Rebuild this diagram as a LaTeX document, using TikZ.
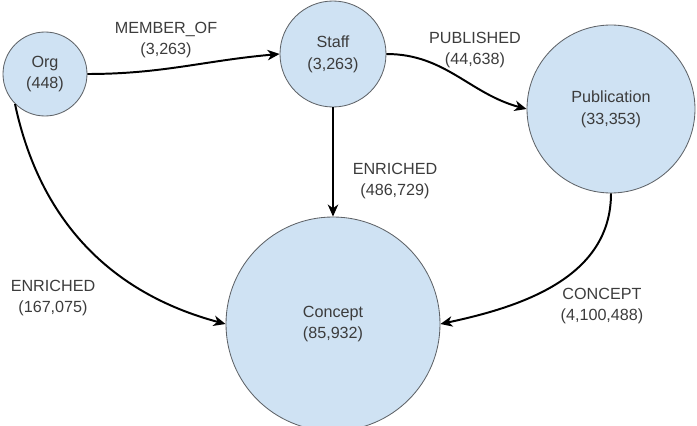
\documentclass[tikz,border=0pt]{standalone}
\usepackage{fontspec}
\setmainfont{Liberation Sans}
\usepackage{tikz}
\usetikzlibrary{arrows.meta}
\definecolor{nodeblue}{RGB}{207,226,243}
\definecolor{nodegray}{RGB}{95,99,104}
\definecolor{textgray}{RGB}{60,60,60}
\tikzset{every node/.append style={align=center}}
\tikzset{
  ent/.style={circle, draw=nodegray, fill=nodeblue, line width=0.6pt, inner sep=0pt,
    font=\fontsize{11.5}{15.5}\selectfont, text=textgray, align=center},
  arrow/.style={-{Stealth[length=3mm, width=2.6mm, inset=0.9mm]}, line width=1.4pt, black},
  lbl/.style={font=\fontsize{11.5}{15.5}\selectfont, text=textgray, align=center}
}
\begin{document}
\begin{tikzpicture}
  \useasboundingbox (0,0) rectangle (174.25mm,-106.5mm);
  \begin{scope}
  \clip (0,0) rectangle (174.25mm,-106.5mm);
  \node[ent, minimum size=21mm] (org) at (11.25mm,-18.5mm) {Org\\(448)};
  \node[ent, minimum size=26.5mm] (staff) at (83.25mm,-13.5mm) {Staff\\(3,263)};
  \node[ent, minimum size=42mm] (pub) at (152.75mm,-27.25mm) {Publication\\(33,353)};
  \node[ent, minimum size=53.5mm] (concept) at (83.25mm,-81mm) {Concept\\(85,932)};
  \end{scope}
  % edges
  \draw[arrow] (org.east) to[out=0, in=185] (staff.west);
  \draw[arrow] (staff.east) to[out=0, in=165] (pub.west);
  \draw[arrow] (staff) -- (concept);
  \draw[arrow] (org.225) to[out=-78, in=165] (concept.west);
  \draw[arrow] (pub.south) to[out=-90, in=12] (concept.east);
  % edge labels
  \node[lbl] (l1) at (41.5mm,-10mm) {MEMBER\_OF\\(3,263)};
  \node[lbl] (l2) at (118.75mm,-12.5mm) {PUBLISHED\\(44,638)};
  \node[lbl] (l3) at (98.75mm,-45.25mm) {ENRICHED\\(486,729)};
  \node[lbl] (l4) at (13.25mm,-74.5mm) {ENRICHED\\(167,075)};
  \node[lbl] (l5) at (150.5mm,-76.5mm) {CONCEPT\\(4,100,488)};
\end{tikzpicture}
\end{document}
